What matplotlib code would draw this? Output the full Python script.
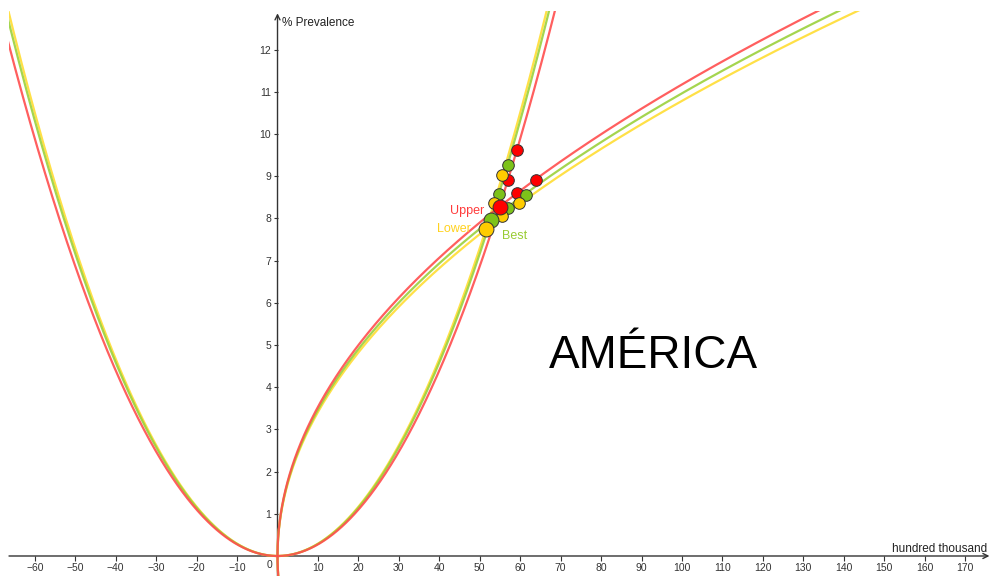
import numpy as np
import matplotlib.pyplot as plt

plt.rcParams['font.family'] = ['Liberation Sans', 'DejaVu Sans']

# scenarios: prevalence curve y = a*x^2 and sideways curve x = (y/k)^2
scenarios = ['Upper', 'Best', 'Lower']
a_coef = [0.002747, 0.002866, 0.002918]
k_coef = [1.1175, 1.0965, 1.0786]
line_colors = ['#FF4D4D', '#9BD13C', '#FFDD33']
dot_colors = ['#FF0000', '#7DC21A', '#FFCC00']
text_colors = ['#FF3B3B', '#99CC33', '#FFD21F']

# points on the curves
pts_x = {'Upper': [59.2, 57.0, 63.9, 59.2],
         'Best': [56.9, 54.8, 61.4, 56.9],
         'Lower': [55.4, 53.5, 59.8, 55.5]}
pts_y = {'Upper': [9.62, 8.92, 8.92, 8.60],
         'Best': [9.26, 8.58, 8.56, 8.25],
         'Lower': [9.03, 8.36, 8.36, 8.06]}
# where the two curves of each scenario cross
cross_x = [54.9, 52.7, 51.5]
cross_y = [8.28, 7.96, 7.74]

# label positions (data units)
label_x = [46.9, 58.7, 43.6]
label_y = [8.18, 7.58, 7.74]

x_ticks = [t for t in range(-60, 180, 10) if t != 0]
y_ticks = list(range(1, 13))

fig = plt.figure(figsize=(9.93, 5.76), dpi=100)
ax = fig.add_axes([9 / 993, 0, 984 / 993, 565 / 576])
ax.set_xlim(-66.38, 176.88)
ax.set_ylim(-0.474, 12.915)

xs = np.linspace(-70, 75, 800)
ys = np.linspace(-1, 14, 800)
for i in [2, 1, 0]:
    ax.plot(xs, a_coef[i] * xs ** 2, color=line_colors[i], lw=1.6, alpha=0.9, zorder=2)
    ax.plot((ys / k_coef[i]) ** 2, ys, color=line_colors[i], lw=1.6, alpha=0.9, zorder=2)

for i, name in enumerate(scenarios):
    ax.scatter(pts_x[name], pts_y[name], s=70, color=dot_colors[i],
               edgecolors='#333333', linewidths=0.7, zorder=4 + i)
for i in range(3):
    ax.scatter(cross_x[i], cross_y[i], s=115, color=dot_colors[i],
               edgecolors='#333333', linewidths=0.7, zorder=7 + i)
    ax.text(label_x[i], label_y[i], scenarios[i], color=text_colors[i],
            fontsize=9, ha='center', va='center', zorder=10)

# axes through the origin with open arrow heads
for s in ['top', 'right', 'bottom', 'left']:
    ax.spines[s].set_visible(False)
ax.spines['bottom'].set_position(('data', 0))
ax.spines['left'].set_position(('data', 0))
ax.annotate('', xy=(176.0, 0), xytext=(-66.38, 0),
            arrowprops=dict(arrowstyle='->', lw=1.0, color='#333333',
                            mutation_scale=9, shrinkA=0, shrinkB=0), zorder=1)
ax.annotate('', xy=(0, 12.86), xytext=(0, -0.474),
            arrowprops=dict(arrowstyle='->', lw=1.0, color='#333333',
                            mutation_scale=9, shrinkA=0, shrinkB=0), zorder=1)

ax.set_xticks(x_ticks)
ax.set_yticks(y_ticks)
ax.tick_params(axis='x', direction='out', length=3.5, width=0.8, color='#333333',
               labelsize=7.5, labelcolor='#333333', pad=1.5)
ax.tick_params(axis='y', direction='out', length=3, width=0.8, color='#333333',
               labelsize=7.5, labelcolor='#333333', pad=1.5)
ax.text(-2.0, -0.21, '0', fontsize=7.5, color='#333333', ha='center', va='center')

ax.text(1.1, 12.63, '% Prevalence', fontsize=8.5, color='#222222', ha='left', va='center')
ax.text(175.4, 0.17, 'hundred thousand', fontsize=8.5, color='#222222', ha='right', va='center')

ax.text(93.0, 4.74, 'AMÉRICA', fontsize=33, color='black', ha='center', va='center')

fig.savefig('out.png', dpi=100)
